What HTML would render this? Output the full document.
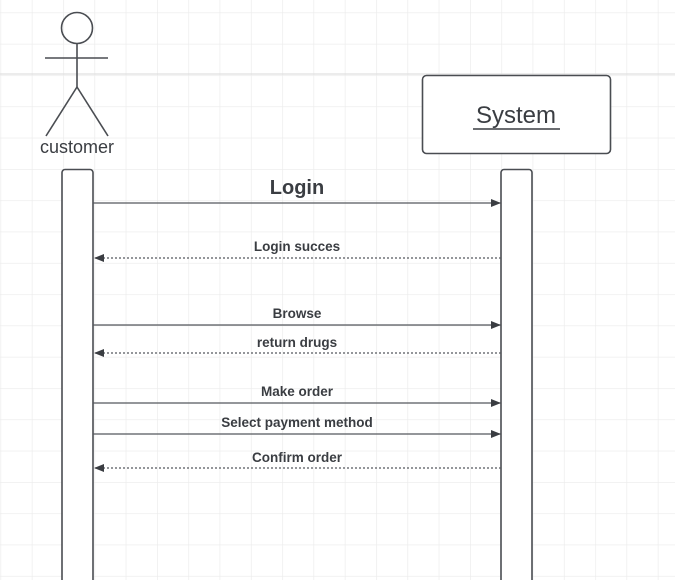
<!DOCTYPE html>
<html><head><style>
html,body{margin:0;padding:0;background:#fff;}
svg{display:block;}
text{font-family:"Liberation Sans",sans-serif;fill:#3a3d42;}
</style></head><body>
<svg width="675" height="580" xmlns="http://www.w3.org/2000/svg">
<defs>
<pattern id="g" x="0.5" y="12.5" width="31.3" height="31.3" patternUnits="userSpaceOnUse">
<path d="M0 0H31.3M0 0V31.3" stroke="#ebebeb" stroke-width="1.3" fill="none"/>
</pattern>
<marker id="a" markerWidth="10" markerHeight="8" refX="10" refY="4" orient="auto" markerUnits="userSpaceOnUse">
<path d="M0 0L10 4L0 8Z" fill="#3a3d42"/>
</marker>
</defs>
<rect width="675" height="580" fill="url(#g)"/>
<line x1="0" y1="74" x2="675" y2="74" stroke="#e0e0e0" stroke-width="1.3"/>
<g stroke="#4a4d52" stroke-width="1.6" fill="none">
<circle cx="77" cy="28" r="15.5"/>
<line x1="77" y1="43.5" x2="77" y2="87"/>
<line x1="45" y1="58" x2="108" y2="58"/>
<line x1="77" y1="87" x2="46" y2="136"/>
<line x1="77" y1="87" x2="108" y2="136"/>
</g>
<text x="77" y="153" font-size="18" text-anchor="middle">customer</text>
<rect x="422.5" y="75.5" width="188" height="78" rx="4" fill="#fff" stroke="#4a4d52" stroke-width="1.6"/>
<text x="516" y="123" font-size="24" text-anchor="middle">System</text>
<line x1="473" y1="129" x2="560" y2="129" stroke="#3a3d42" stroke-width="1.5"/>
<rect x="62" y="169.5" width="31" height="430" rx="3" fill="#fff" stroke="#4a4d52" stroke-width="1.6"/>
<rect x="501" y="169.5" width="31" height="430" rx="3" fill="#fff" stroke="#4a4d52" stroke-width="1.6"/>
<g stroke="#55585d" stroke-width="1.2" fill="none">
<line x1="93" y1="203" x2="501" y2="203" marker-end="url(#a)"/>
<line x1="501" y1="258" x2="94" y2="258" stroke-dasharray="2 2" marker-end="url(#a)"/>
<line x1="93" y1="325" x2="501" y2="325" marker-end="url(#a)"/>
<line x1="501" y1="353" x2="94" y2="353" stroke-dasharray="2 2" marker-end="url(#a)"/>
<line x1="93" y1="403" x2="501" y2="403" marker-end="url(#a)"/>
<line x1="93" y1="434" x2="501" y2="434" marker-end="url(#a)"/>
<line x1="501" y1="468" x2="94" y2="468" stroke-dasharray="2 2" marker-end="url(#a)"/>
</g>
<g font-weight="bold" text-anchor="middle">
<text x="297" y="194" font-size="20">Login</text>
<text x="297" y="251" font-size="13.5">Login succes</text>
<text x="297" y="318" font-size="13.5">Browse</text>
<text x="297" y="347" font-size="13.5">return drugs</text>
<text x="297" y="396" font-size="13.5">Make order</text>
<text x="297" y="427" font-size="13.5">Select payment method</text>
<text x="297" y="462" font-size="13.5">Confirm order</text>
</g>
</svg>
</body></html>
